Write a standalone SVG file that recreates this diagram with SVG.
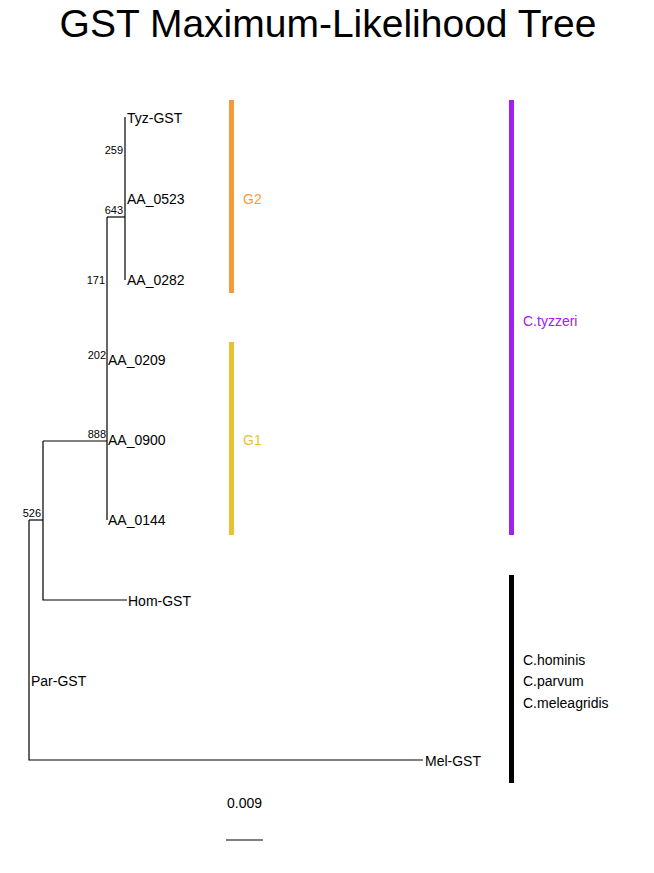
<svg xmlns="http://www.w3.org/2000/svg" width="654" height="873" viewBox="0 0 654 873">
<style>
text{font-family:"Liberation Sans",Arial,sans-serif;}
.tip{font-size:14px;fill:#000;}
.bs{font-size:11px;fill:#000;text-anchor:end;}
.br{stroke:#000;stroke-width:1.2;fill:none;}
.title{font-size:39px;text-anchor:middle;fill:#000;}
.clade{font-size:14px;}
</style>
<rect width="654" height="873" fill="#fff"/>
<text class="title" x="328" y="37">GST Maximum-Likelihood Tree</text>
<g id="connectors">
<path class="br" d="M125,117 V280"/>
<path class="br" d="M107,217 H125"/>
<path class="br" d="M107,217 V520"/>
<path class="br" d="M43,441 H107"/>
<path class="br" d="M43,441 V600 H127"/>
<path class="br" d="M29,520 H43"/>
<path class="br" d="M29,520 V760 H423"/>
</g>
<g id="tip-Tyz-GST"><text class="tip" x="127" y="123">Tyz-GST</text></g>
<g id="tip-AA_0523"><text class="tip" x="127" y="204">AA_0523</text></g>
<g id="tip-AA_0282"><text class="tip" x="127" y="285">AA_0282</text></g>
<g id="tip-AA_0209"><text class="tip" x="108" y="365">AA_0209</text></g>
<g id="tip-AA_0900"><text class="tip" x="108" y="445">AA_0900</text></g>
<g id="tip-AA_0144"><text class="tip" x="108" y="525">AA_0144</text></g>
<g id="tip-Hom-GST"><text class="tip" x="128" y="606">Hom-GST</text></g>
<g id="tip-Par-GST"><text class="tip" x="31" y="686">Par-GST</text></g>
<g id="tip-Mel-GST"><text class="tip" x="425" y="766">Mel-GST</text></g>
<g id="node-259"><text class="bs" x="123" y="154">259</text></g>
<g id="node-643"><text class="bs" x="123" y="214">643</text></g>
<g id="node-171"><text class="bs" x="105" y="284">171</text></g>
<g id="node-202"><text class="bs" x="106" y="359">202</text></g>
<g id="node-888"><text class="bs" x="106" y="438">888</text></g>
<g id="node-526"><text class="bs" x="41" y="517">526</text></g>
<g id="clade-G2">
<rect x="229" y="100" width="5" height="193" fill="#F39B3A"/>
<text class="clade" x="243" y="204" fill="#F39B3A">G2</text>
</g>
<g id="clade-G1">
<rect x="229" y="342" width="5" height="193" fill="#EEBE33"/>
<text class="clade" x="243" y="445" fill="#EEBE33">G1</text>
</g>
<g id="clade-tyzzeri">
<rect x="509" y="100" width="5" height="435" fill="#A020F0"/>
<text class="clade" x="523" y="326" fill="#A020F0">C.tyzzeri</text>
</g>
<g id="clade-others">
<rect x="509" y="575" width="5" height="208" fill="#000"/>
<text class="clade" x="523" y="665" fill="#000">C.hominis</text>
<text class="clade" x="523" y="686" fill="#000">C.parvum</text>
<text class="clade" x="523" y="708" fill="#000">C.meleagridis</text>
</g>
<g id="scale">
<text class="tip" x="227" y="808">0.009</text>
<path class="br" d="M226,840 H263"/>
</g>
</svg>
